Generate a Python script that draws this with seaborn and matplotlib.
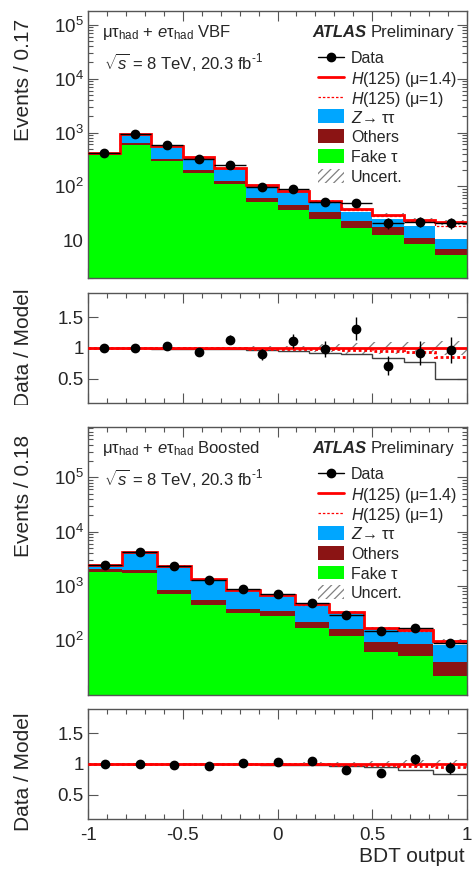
import numpy as np
import pandas as pd
import matplotlib
matplotlib.use("Agg")
import matplotlib.pyplot as plt
import seaborn as sns
from matplotlib.patches import Rectangle
from matplotlib.lines import Line2D
from matplotlib.ticker import (FixedLocator, FixedFormatter, LogLocator,
                               MultipleLocator, NullFormatter)
from matplotlib.transforms import Bbox, TransformedBbox

# ---------------- VBF category (12 bins in BDT output) ----------------
vbf_fake = [390, 590, 298, 179, 109, 51, 37, 25, 17, 12.8, 8.5, 5.4]
vbf_others = [12, 40, 31, 24, 18, 10, 8, 8, 6, 4.7, 2.5, 1.5]
vbf_ztt = [9, 305, 229, 142, 93, 42, 32.5, 15.8, 11.2, 7.3, 7.5, 3.9]
vbf_signal = [2, 5, 6, 3.5, 4.5, 4, 4.5, 4.2, 3.8, 4.7, 5.5, 10.8]  # H(125), mu=1.4
vbf_data = [413, 938, 580, 327, 255, 96, 91, 52, 50, 21, 22, 21]
vbf_unc = [0.01, 0.01, 0.01, 0.015, 0.02, 0.03, 0.04, 0.06, 0.09, 0.10, 0.10, 0.11]

# ---------------- Boosted category (11 bins in BDT output) ----------------
bst_fake = [1830, 1730, 697, 449, 310, 277, 164, 120, 60, 50, 22]
bst_others = [210, 220, 129, 98, 58, 62, 51, 40, 32, 34, 18]
bst_ztt = [408, 2249, 1512, 796, 476, 319, 229, 159, 68, 55, 40.5]
bst_signal = [12, 21, 12, 7, 6, 10, 11, 10, 9, 14, 16.5]  # H(125), mu=1.4
bst_data = [2460, 4220, 2327, 1296, 859, 695, 478, 296, 144, 165, 90]
bst_unc = [0.01, 0.01, 0.01, 0.01, 0.015, 0.02, 0.025, 0.04, 0.05, 0.06, 0.07]

MU_FIT = 1.4

legend_labels = ["Data", r"$H$(125) (μ=1.4)", r"$H$(125) (μ=1)", r"$Z$→ ττ",
                 "Others", "Fake τ", "Uncert."]

# ---------------- style ----------------
sns.set_theme(style="ticks")
plt.rcParams["font.family"] = ["Liberation Sans", "DejaVu Sans"]
plt.rcParams["mathtext.fontset"] = "custom"
plt.rcParams["mathtext.rm"] = "Liberation Sans"
plt.rcParams["mathtext.it"] = "Liberation Sans:italic"
plt.rcParams["mathtext.bf"] = "Liberation Sans:bold"
plt.rcParams["axes.unicode_minus"] = False
plt.rcParams["hatch.color"] = "#808080"
plt.rcParams["hatch.linewidth"] = 0.9

C_ZTT = "#00a6ff"
C_OTH = "#8b1414"
C_FAKE = "#00ff00"
C_FRAME = "#555555"
C_UNC = "#808080"
FS_TICK = 13.5
FS_LAB = 15
FS_TXT = 12
FS_LEG = 11.5
MS = 6.0

fig = plt.figure(figsize=(4.72, 8.74), dpi=100)
W, H = 472.0, 874.0


def px_axes(left, top, right, bottom):
    return fig.add_axes([left / W, 1 - bottom / H, (right - left) / W, (bottom - top) / H])


ax_vbf = px_axes(88, 11, 467, 278)
ax_vbf_r = px_axes(88, 293, 467, 403)
ax_bst = px_axes(88, 427, 467, 695)
ax_bst_r = px_axes(88, 709, 467, 819)


def style_axes(ax):
    for s in ax.spines.values():
        s.set_color(C_FRAME)
        s.set_linewidth(1.0)
    ax.tick_params(which="both", direction="in", top=True, right=True,
                   color=C_FRAME, labelsize=FS_TICK, width=0.8, pad=3)
    ax.tick_params(which="major", length=7)
    ax.tick_params(which="minor", length=3.5)
    ax.set_xlim(-1, 1)
    ax.xaxis.set_major_locator(MultipleLocator(0.5))
    ax.xaxis.set_minor_locator(MultipleLocator(0.1))


def step_ext(v):
    v = np.asarray(v, float)
    return np.append(v, v[-1])


def draw_legend(ax):
    y0, dy = 0.828, 0.0742
    x0, x1, xt = 0.607, 0.675, 0.694
    hh = 0.052
    kw = dict(transform=ax.transAxes, clip_on=False, zorder=8)
    for i, lab in enumerate(legend_labels):
        yc = y0 - i * dy
        if i == 0:
            ax.add_line(Line2D([x0, x1], [yc, yc], color="black", lw=1.0, **kw))
            ax.add_line(Line2D([(x0 + x1) / 2], [yc], color="black", marker="o",
                               ms=MS, lw=0, **kw))
        elif i == 1:
            ax.add_line(Line2D([x0, x1], [yc, yc], color="red", lw=2.0, **kw))
        elif i == 2:
            ax.add_line(Line2D([x0, x1], [yc, yc], color="red", lw=0.9,
                               ls=(0, (2, 1.5)), **kw))
        elif i in (3, 4, 5):
            col = [C_ZTT, C_OTH, C_FAKE][i - 3]
            ax.add_patch(Rectangle((x0, yc - hh / 2), x1 - x0, hh, facecolor=col,
                                   edgecolor="none", **kw))
        else:
            ax.add_patch(Rectangle((x0, yc - hh / 2), x1 - x0, hh, facecolor="none",
                                   edgecolor=C_UNC, hatch="////", lw=0, **kw))
        ax.text(xt, yc, lab, transform=ax.transAxes, fontsize=FS_LEG,
                ha="left", va="center_baseline", zorder=8)


def draw_main(ax, fake, others, ztt, signal, data, unc, ylim, ylab, cat, yticks, yticklabels):
    n = len(fake)
    edges = np.linspace(-1, 1, n + 1)
    centers = 0.5 * (edges[1:] + edges[:-1])
    width = edges[1] - edges[0]
    fake, others, ztt, signal, data, unc = (np.asarray(a, float) for a in
                                            (fake, others, ztt, signal, data, unc))
    bkg = fake + others + ztt
    total = bkg + signal
    sm = bkg + signal / MU_FIT

    df = pd.DataFrame({
        "bdt": np.tile(centers, 3),
        "events": np.concatenate([fake, others, ztt]),
        "process": ["Fake"] * n + ["Others"] * n + ["Ztt"] * n,
    })
    sns.histplot(data=df, x="bdt", weights="events", hue="process",
                 hue_order=["Ztt", "Others", "Fake"], bins=list(edges),
                 multiple="stack", element="bars", fill=True, shrink=1,
                 alpha=1, linewidth=0,
                 palette={"Ztt": C_ZTT, "Others": C_OTH, "Fake": C_FAKE},
                 legend=False, ax=ax)
    ax.set_yscale("log")

    ax.fill_between(edges, step_ext(total * (1 - unc)), step_ext(total * (1 + unc)),
                    step="post", facecolor="none", edgecolor=C_UNC,
                    hatch="//", linewidth=0, zorder=3)
    ax.stairs(sm, edges, baseline=None, color="red", lw=0.9, ls=(0, (2, 1.5)), zorder=4)
    ax.stairs(total, edges, baseline=None, color="red", lw=2.0, zorder=4)
    ax.errorbar(centers, data, yerr=np.sqrt(data), xerr=width / 2, fmt="o",
                color="black", ms=MS, lw=1.0, capsize=0, zorder=6)

    style_axes(ax)
    ax.set_ylim(*ylim)
    ax.yaxis.set_major_locator(FixedLocator(yticks))
    ax.yaxis.set_major_formatter(FixedFormatter(yticklabels))
    ax.yaxis.set_minor_locator(LogLocator(base=10, subs=np.arange(2, 10), numticks=20))
    ax.yaxis.set_minor_formatter(NullFormatter())
    ax.set_xticklabels([])
    ax.set_xlabel("")
    ax.set_ylabel(ylab, fontsize=FS_LAB, loc="top")
    ax.yaxis.set_label_coords(-0.145, 0.972)

    ax.text(0.037, 0.903, r"μτ$_{\rm had}$ + $e$τ$_{\rm had}$ " + cat,
            transform=ax.transAxes, fontsize=FS_TXT, ha="left", va="baseline")
    ax.text(0.042, 0.783, r"$\sqrt{s}$ = 8 TeV, 20.3 fb$^{\text{-1}}$",
            transform=ax.transAxes, fontsize=FS_TXT, ha="left", va="baseline")
    prelim = ax.text(0.968, 0.903, "Preliminary", transform=ax.transAxes,
                     fontsize=FS_TXT, ha="right", va="baseline")
    ax.annotate("ATLAS", xy=(0, 0), xycoords=prelim, xytext=(-3.5, 0),
                textcoords="offset points", ha="right", va="bottom",
                fontsize=FS_TXT, fontweight="bold", fontstyle="italic")
    draw_legend(ax)
    return edges, centers, bkg, total, sm, data, unc


def draw_ratio(ax, edges, centers, bkg, total, sm, data, unc, show_x):
    ones = np.ones_like(total)
    ax.fill_between(edges, step_ext(1 - unc), step_ext(1 + unc), step="post",
                    facecolor="none", edgecolor=C_UNC, hatch="//",
                    linewidth=0, zorder=2)
    ax.stairs(bkg / total, edges, baseline=None, color="#404040", lw=1.0, zorder=3)
    ax.stairs(ones, edges, baseline=None, color="red", lw=2.0, zorder=4)
    ax.stairs(sm / total, edges, baseline=None, color="red", lw=2.0,
              ls=(0, (1, 1)), zorder=4)
    ax.errorbar(centers, data / total, yerr=np.sqrt(data) / total, fmt="o",
                color="black", ms=MS, lw=1.0, capsize=0, zorder=6)
    style_axes(ax)
    ax.set_ylim(0.1, 1.9)
    ax.yaxis.set_major_locator(FixedLocator([0.5, 1.0, 1.5]))
    ax.yaxis.set_major_formatter(FixedFormatter(["0.5", "1", "1.5"]))
    ax.yaxis.set_minor_locator(FixedLocator([]))
    if show_x:
        ax.xaxis.set_major_locator(FixedLocator([-1, -0.5, 0, 0.5, 1]))
        ax.xaxis.set_major_formatter(FixedFormatter(["-1", "-0.5", "0", "0.5", "1"]))
        ax.tick_params(axis="x", pad=5.5)
        ax.set_xlabel("BDT output", fontsize=FS_LAB, loc="right")
        ax.xaxis.set_label_coords(0.995, -0.255)
    else:
        ax.set_xticklabels([])
    ax.set_ylabel("Data / Model", fontsize=FS_LAB, loc="top")


res_vbf = draw_main(ax_vbf, vbf_fake, vbf_others, vbf_ztt, vbf_signal, vbf_data, vbf_unc,
                    (2.0, 1.8e5), "Events / 0.17", "VBF",
                    [10, 1e2, 1e3, 1e4, 1e5],
                    ["10", r"$10^{2}$", r"$10^{3}$", r"$10^{4}$", r"$10^{5}$"])
res_bst = draw_main(ax_bst, bst_fake, bst_others, bst_ztt, bst_signal, bst_data, bst_unc,
                    (9.7, 8.5e5), "Events / 0.18", "Boosted",
                    [1e2, 1e3, 1e4, 1e5],
                    [r"$10^{2}$", r"$10^{3}$", r"$10^{4}$", r"$10^{5}$"])

draw_ratio(ax_vbf_r, *res_vbf, show_x=False)
draw_ratio(ax_bst_r, *res_bst, show_x=True)

ax_bst_r.yaxis.set_label_coords(-0.145, 0.965)
# upper ratio label sits a little higher and is trimmed by its pad
ax_vbf_r.yaxis.set_label_coords(-0.145, 1.04)
lab = ax_vbf_r.yaxis.label
lab.set_clip_box(TransformedBbox(Bbox([[0, 1 - 405 / H], [1, 1 - 286 / H]]), fig.transFigure))
lab.set_clip_on(True)

fig.savefig("out.png", dpi=100)
